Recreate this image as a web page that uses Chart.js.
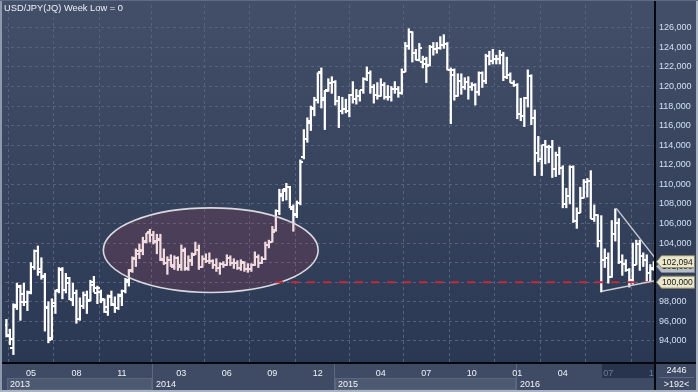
<!DOCTYPE html>
<html>
<head>
<meta charset="utf-8">
<script src="https://cdn.jsdelivr.net/npm/chart.js@4.4.1/dist/chart.umd.min.js"></script>
<style>
  html, body { margin: 0; padding: 0; background: #2c3954; }
  canvas { display: block; }
</style>
</head>
<body>
<canvas id="myChart" width="698" height="392"></canvas>
<script>
// USD/JPY weekly bars, first bar is the week of Mon 18 Mar 2013
var firstWeek = Date.UTC(2013, 2, 18);

var openData = [
  95.6, 94.5, 93.3, 97.7, 99.5, 98.8, 98.0, 98.9, 101.6, 103.2, 101.3, 100.6, 97.4, 94.3, 97.6, 99.2, 101.3, 99.2, 99.9, 98.2, 98.9, 96.2, 97.6, 98.7, 98.1, 100.0, 98.9, 99.0, 98.2, 97.0, 98.5, 97.8, 97.4, 98.6, 99.1, 100.0, 101.2, 102.5, 103.2, 103.3, 104.2, 105.1,
  104.8, 104.1, 104.4, 102.4, 102.0, 102.3, 101.6, 102.5, 101.6, 103.2, 101.4, 102.3, 102.9, 103.3, 101.6, 102.4, 102.2, 102.2, 101.8, 101.5, 101.9, 101.8, 102.5, 102.0, 102.0, 101.4, 102.0, 101.3, 101.3, 101.8, 102.6, 102.0, 102.4, 103.8, 104.1, 105.3, 107.3, 108.8, 109.5, 109.7, 107.5, 107.0, 108.1, 112.8, 114.6, 116.5, 117.8, 118.6, 121.5, 118.6, 119.6, 120.4,
  120.5, 118.5, 117.5, 117.7, 117.5, 119.1, 118.7, 119.0, 119.6, 120.8, 121.4, 120.0, 119.1, 119.0, 120.2, 118.9, 118.9, 119.7, 119.7, 119.3, 121.5, 124.1, 125.6, 123.4, 122.7, 122.5, 122.3, 122.2, 124.0, 123.8, 123.9, 124.2, 124.3, 121.7, 121.2, 119.0, 120.6, 119.9, 120.5, 119.9, 120.2, 119.4, 121.4, 120.6, 123.1, 122.6, 122.8, 122.8, 123.2, 121.0, 121.2, 120.4,
  120.2, 117.2, 117.0, 118.8, 121.1, 116.8, 113.2, 112.6, 114.0, 113.8, 113.8, 111.6, 113.0, 111.7, 108.0, 108.8, 111.8, 106.3, 107.1, 108.6, 110.2, 110.3, 106.5, 106.9, 104.2, 102.3, 102.5, 100.5, 104.9, 106.1, 102.1, 101.9, 101.2, 100.2, 101.8, 103.9, 102.7, 102.3, 100.9, 101.4
];
var highData = [
  96.2, 95.2, 97.8, 99.9, 99.7, 99.9, 99.1, 102.0, 103.3, 103.7, 102.5, 100.9, 98.0, 98.3, 99.2, 101.5, 101.5, 100.9, 100.5, 99.9, 99.2, 98.4, 99.0, 99.1, 100.2, 100.6, 99.6, 99.2, 98.3, 98.7, 99.1, 98.5, 98.8, 99.2, 100.4, 101.3, 102.6, 103.4, 103.9, 104.6, 105.0, 105.4,
  105.2, 104.9, 104.9, 103.4, 102.6, 102.8, 102.7, 102.6, 103.8, 103.5, 102.7, 103.0, 104.1, 103.8, 102.7, 102.9, 103.0, 102.3, 102.4, 102.0, 102.1, 102.8, 102.7, 102.4, 102.2, 102.3, 102.1, 101.9, 101.9, 103.1, 102.8, 102.6, 104.1, 104.3, 105.7, 107.4, 109.5, 109.5, 110.1, 109.8, 107.9, 108.3, 112.5, 115.6, 116.8, 118.0, 118.9, 121.4, 121.9, 119.6, 120.8, 121.0,
  120.6, 119.0, 118.9, 118.7, 119.2, 120.5, 119.7, 119.6, 120.9, 122.0, 121.6, 120.2, 120.4, 120.8, 120.4, 120.1, 120.0, 120.5, 120.0, 121.8, 124.5, 125.9, 125.6, 123.8, 124.4, 123.1, 123.0, 124.2, 124.5, 124.5, 125.1, 125.3, 124.5, 121.9, 121.8, 121.3, 121.3, 120.9, 121.0, 120.4, 120.3, 121.5, 121.5, 123.3, 123.6, 123.8, 123.2, 123.7, 123.5, 123.0, 121.4, 120.6,
  120.3, 118.8, 118.9, 121.7, 121.2, 117.6, 114.9, 114.0, 114.5, 114.0, 114.5, 113.3, 113.8, 111.9, 109.6, 111.9, 111.9, 107.6, 109.7, 110.5, 110.6, 111.4, 107.9, 106.9, 106.8, 103.4, 103.0, 106.3, 107.5, 106.5, 102.8, 102.3, 101.4, 104.0, 104.3, 104.3, 103.0, 102.8, 101.8, 102.1
];
var lowData = [
  94.4, 93.6, 92.6, 97.2, 96.1, 97.6, 97.1, 98.8, 101.3, 100.7, 100.3, 95.0, 93.8, 94.1, 96.8, 98.9, 98.3, 98.9, 98.2, 97.6, 95.8, 96.1, 97.3, 96.8, 98.1, 99.0, 97.8, 97.9, 96.9, 96.6, 97.6, 96.9, 97.2, 97.6, 98.9, 99.6, 101.0, 101.6, 102.4, 102.8, 104.0, 104.1,
  103.9, 102.9, 102.2, 101.8, 100.8, 101.6, 101.3, 101.2, 101.2, 101.2, 101.2, 101.7, 102.8, 101.3, 101.5, 102.0, 101.9, 101.4, 101.1, 100.8, 101.5, 101.7, 101.7, 101.4, 101.3, 101.2, 101.1, 101.0, 101.1, 101.7, 101.5, 101.9, 102.3, 103.5, 104.1, 105.2, 106.9, 108.3, 108.4, 107.6, 105.2, 106.6, 107.9, 112.6, 114.3, 115.5, 117.0, 118.3, 117.8, 115.6, 119.5, 119.3,
  118.1, 115.8, 117.2, 117.3, 116.9, 118.3, 118.2, 118.5, 119.3, 120.6, 119.3, 118.3, 118.7, 119.0, 118.7, 118.6, 118.5, 119.3, 118.9, 119.2, 121.5, 123.8, 122.5, 122.7, 122.6, 121.9, 120.4, 122.1, 123.2, 123.4, 123.8, 123.9, 121.7, 116.2, 118.6, 119.0, 119.2, 119.7, 118.7, 119.6, 118.1, 119.1, 119.9, 120.3, 122.2, 122.3, 122.3, 122.3, 120.6, 120.8, 120.4, 120.0,
  116.7, 116.5, 115.9, 117.9, 116.1, 110.9, 112.3, 110.9, 112.1, 112.2, 110.7, 110.8, 111.0, 107.6, 107.6, 108.0, 106.1, 105.5, 107.1, 108.6, 108.7, 106.5, 106.2, 103.6, 99.0, 101.5, 99.9, 100.5, 104.2, 101.9, 100.7, 101.1, 99.5, 99.8, 101.8, 101.2, 101.6, 100.1, 100.1, 101.2
];
var closeData = [
  94.6, 94.2, 97.5, 99.6, 98.0, 98.0, 99.0, 101.6, 103.2, 101.0, 100.5, 97.5, 94.1, 97.9, 99.1, 101.2, 99.2, 100.4, 98.3, 98.9, 96.2, 97.6, 98.7, 98.2, 99.7, 99.4, 99.4, 98.3, 97.5, 98.6, 97.7, 97.4, 98.7, 99.1, 100.2, 101.1, 102.4, 102.9, 103.2, 104.1, 105.0, 104.8,
  104.2, 104.3, 102.3, 102.0, 102.3, 101.8, 102.5, 101.8, 103.3, 101.3, 102.2, 102.8, 103.3, 101.6, 102.4, 102.2, 102.2, 101.8, 101.5, 101.9, 101.8, 102.5, 102.0, 102.0, 101.4, 102.1, 101.3, 101.3, 101.8, 102.6, 102.0, 102.4, 103.8, 104.1, 105.1, 107.3, 109.0, 109.3, 109.7, 107.7, 106.9, 108.1, 112.3, 114.6, 116.3, 117.7, 118.6, 121.4, 118.8, 119.5, 120.4, 120.5,
  118.5, 117.5, 117.7, 117.5, 119.1, 118.7, 119.0, 119.6, 120.8, 121.4, 120.0, 119.1, 119.0, 120.2, 118.9, 118.9, 119.7, 119.7, 119.3, 121.5, 124.1, 125.6, 123.4, 122.7, 123.9, 122.8, 122.1, 124.0, 123.8, 123.9, 124.2, 124.3, 121.7, 121.7, 119.0, 120.6, 119.9, 120.5, 119.9, 120.2, 119.4, 121.4, 120.6, 123.1, 122.6, 122.8, 122.8, 123.2, 121.0, 121.2, 120.4, 120.2,
  117.2, 117.0, 118.8, 121.1, 116.8, 113.2, 112.6, 114.0, 113.8, 113.8, 111.6, 113.0, 111.7, 108.0, 108.8, 111.8, 106.3, 107.1, 108.6, 110.2, 110.3, 106.5, 106.9, 104.2, 102.3, 102.5, 100.5, 104.9, 106.1, 102.1, 101.9, 101.2, 100.2, 101.8, 103.9, 102.7, 102.3, 100.9, 101.3, 102.094
];

var priceTicks = [94, 96, 98, 100, 102, 104, 106, 108, 110, 112, 114, 116, 118, 120, 122, 124, 126];
var monthTicks = ['2013-05', '2013-08', '2013-11', '2014-03', '2014-06', '2014-09', '2014-12',
  '2015-04', '2015-07', '2015-10', '2016-01', '2016-04', '2016-07', '2016-10'];
var yearLabels = ['2013', '2014', '2015', '2016'];

var lastPrice = 102.094;
var prevPrice = 101.6;
var supportPrice = 100;

var fontFamily = '"Liberation Sans", Arial, sans-serif';
var gridColor = '#56627b';

// first weekly bar that starts in the given month
function weekOf(ym) {
  var p = ym.split('-');
  var t = Date.UTC(+p[0], +p[1] - 1, 1);
  return Math.ceil((t - firstWeek) / (7 * 864e5));
}

function tickImage(side) {
  var c = document.createElement('canvas');
  c.width = 6; c.height = 2;
  var g = c.getContext('2d');
  g.fillStyle = '#ffffff';
  g.fillRect(side == 'left' ? 0 : 3, 0, 3, 2);
  return c;
}

function priceText(v) {
  return v.toFixed(3).replace('.', ',');
}

function drawTag(c, x, y, text, fill, edge) {
  c.beginPath();
  c.moveTo(x, y);
  c.lineTo(x + 5, y - 6);
  c.lineTo(x + 38, y - 6);
  c.lineTo(x + 38, y + 6);
  c.lineTo(x + 5, y + 6);
  c.closePath();
  c.fillStyle = fill;
  c.fill();
  c.strokeStyle = edge;
  c.lineWidth = 1;
  c.stroke();
  c.fillStyle = '#161616';
  c.font = '8.5px ' + fontFamily;
  c.textAlign = 'left';
  c.textBaseline = 'middle';
  c.fillText(text, x + 5.5, y + 0.5);
}

var frame = {
  id: 'frame',
  beforeDraw: function (chart) {
    var c = chart.ctx, a = chart.chartArea, W = chart.width, H = chart.height;
    var xs = chart.scales.x;
    c.save();
    var g = c.createLinearGradient(0, 0, 0, a.bottom);
    g.addColorStop(0, '#434f68');
    g.addColorStop(1, '#2b3853');
    c.fillStyle = g;
    c.fillRect(0, 0, W, a.bottom);

    c.fillStyle = '#3f4b64';
    c.fillRect(0, a.bottom, W, H - a.bottom);

    // darker strip behind the last months
    c.fillStyle = '#28344d';
    c.fillRect(602, a.bottom + 1, a.right - 602, 14);

    var yx = yearLabels.map(function (y, k) {
      return k == 0 ? a.left + 2 : Math.round(xs.getPixelForValue(weekOf(y + '-01')));
    });
    c.font = '9px ' + fontFamily;
    c.textBaseline = 'middle';
    c.textAlign = 'left';
    yearLabels.forEach(function (y, k) {
      var x0 = yx[k];
      var x1 = k + 1 < yx.length ? yx[k + 1] : a.right;
      if (k % 2 == 0) {
        c.fillStyle = '#4d5971';
        c.fillRect(x0, 378, x1 - x0 - 1, 12);
        c.strokeStyle = '#5a667e';
        c.lineWidth = 1;
        c.strokeRect(x0 + 0.5, 378.5, x1 - x0 - 2, 11);
      }
      if (k > 0) {
        c.fillStyle = '#5d6981';
        c.fillRect(x0 - 1, a.bottom + 1, 1, H - a.bottom - 3);
      }
      c.fillStyle = '#f2f5f9';
      c.fillText(y, x0 + 3, 384.5);
    });
    c.restore();
  },
  afterDatasetsDraw: function (chart) {
    var c = chart.ctx, a = chart.chartArea;
    var xs = chart.scales.x, ys = chart.scales.y;
    c.save();
    c.beginPath();
    c.rect(a.left, a.top, a.right - a.left, a.bottom - a.top);
    c.clip();

    // ellipse around the 2014 range
    var cx = xs.getPixelForValue(58.4), cy = ys.getPixelForValue(103.27);
    var rx = xs.getPixelForValue(58.4 + 30.7) - cx;
    var ry = cy - ys.getPixelForValue(103.27 + 4.32);
    c.beginPath();
    c.ellipse(cx, cy, rx, ry, 0, 0, Math.PI * 2);
    c.fillStyle = 'rgba(185, 55, 80, 0.18)';
    c.fill();
    c.strokeStyle = '#d9d9e0';
    c.lineWidth = 1.6;
    c.stroke();

    // 100 yen line
    c.beginPath();
    c.setLineDash([8, 8]);
    c.moveTo(xs.getPixelForValue(76.8), ys.getPixelForValue(supportPrice));
    c.lineTo(a.right, ys.getPixelForValue(supportPrice));
    c.strokeStyle = '#c4283c';
    c.lineWidth = 2;
    c.stroke();
    c.setLineDash([]);

    // triangle after June 2016
    c.strokeStyle = '#c9ccd4';
    c.lineWidth = 1.4;
    c.beginPath();
    c.moveTo(xs.getPixelForValue(174.3), ys.getPixelForValue(107.55));
    c.lineTo(xs.getPixelForValue(185.35), ys.getPixelForValue(102.48));
    c.stroke();
    c.beginPath();
    c.moveTo(xs.getPixelForValue(170.2), ys.getPixelForValue(99.07));
    c.lineTo(xs.getPixelForValue(185.35), ys.getPixelForValue(100.15));
    c.stroke();
    c.restore();
  },
  afterDraw: function (chart) {
    var c = chart.ctx, a = chart.chartArea, W = chart.width, H = chart.height;
    var ys = chart.scales.y;
    c.save();

    // corner box under the price axis
    c.fillStyle = '#3f4b64';
    c.fillRect(a.right, a.bottom, W - a.right, H - a.bottom);
    c.fillStyle = '#5d6981';
    c.fillRect(a.right + 4, 377, W - a.right - 8, 1);
    c.fillStyle = '#f2f5f9';
    c.font = '9px ' + fontFamily;
    c.textAlign = 'center';
    c.textBaseline = 'middle';
    c.fillText('2446', (a.right + W) / 2, 371);
    c.fillText('>192<', (a.right + W) / 2, 384.5);

    // axis lines
    c.fillStyle = '#05080d';
    c.fillRect(0, a.bottom - 1, W, 2);
    c.fillRect(a.right - 1, 0, 2, H);

    // price tags
    drawTag(c, a.right + 1.5, ys.getPixelForValue(prevPrice), priceText(prevPrice), '#b7bec8', '#7d8592');
    drawTag(c, a.right + 1.5, ys.getPixelForValue(lastPrice), priceText(lastPrice), '#ebe7ca', '#8c886c');
    drawTag(c, a.right + 1.5, ys.getPixelForValue(supportPrice), priceText(supportPrice), '#ebe7ca', '#8c886c');

    // title
    c.fillStyle = '#eef2f7';
    c.font = '9.3px ' + fontFamily;
    c.textAlign = 'left';
    c.textBaseline = 'alphabetic';
    c.fillText('USD/JPY(JQ) Week Low = 0', 4, 11);

    // outer frame
    c.fillStyle = '#8d99ad';
    c.fillRect(0, 0, 2, H);
    c.fillStyle = '#a9b3c1';
    c.fillRect(0, H - 2, W, 2);
    c.fillRect(W - 2, 0, 2, H);
    c.fillStyle = '#5d6a82';
    c.fillRect(0, 0, W, 1);
    c.restore();
  }
};

var bars = openData.map(function (o, i) { return { x: i, y: [lowData[i], highData[i]] }; });
var opens = openData.map(function (o, i) { return { x: i, y: o }; });
var closes = closeData.map(function (v, i) { return { x: i, y: v }; });

Chart.defaults.font.family = fontFamily;

var ctx = document.getElementById('myChart').getContext('2d');
var myChart = new Chart(ctx, {
  type: 'bar',
  data: {
    datasets: [{
      type: 'bar',
      data: bars,
      backgroundColor: '#ffffff',
      borderWidth: 0,
      barThickness: 1.6
    }, {
      type: 'line',
      data: opens,
      showLine: false,
      pointStyle: tickImage('left'),
      pointRadius: 3
    }, {
      type: 'line',
      data: closes,
      showLine: false,
      pointStyle: tickImage('right'),
      pointRadius: 3
    }]
  },
  options: {
    responsive: false,
    animation: false,
    devicePixelRatio: 1,
    events: [],
    layout: { padding: { left: 3, top: 2, right: 0, bottom: 0 } },
    plugins: {
      legend: { display: false },
      tooltip: { enabled: false }
    },
    scales: {
      x: {
        type: 'linear',
        position: 'bottom',
        min: -0.4,
        max: 185.35,
        offset: false,
        afterBuildTicks: function (s) {
          s.ticks = monthTicks.map(function (m) { return { value: weekOf(m) }; });
        },
        afterFit: function (s) {
          s.height = 29;
          s.paddingLeft = 0;
          s.paddingRight = 0;
        },
        grid: { color: gridColor, lineWidth: 1, drawTicks: false },
        border: { display: true, color: '#05080d', width: 2, dash: [3, 3] },
        ticks: {
          autoSkip: false,
          maxRotation: 0,
          padding: 5,
          font: { size: 9 },
          color: function (c) { return c.index >= 12 ? '#6f7c93' : '#eef2f7'; },
          callback: function (v, i) { return monthTicks[i].slice(5); }
        }
      },
      y: {
        type: 'linear',
        position: 'right',
        min: 91.74,
        max: 128.33,
        afterBuildTicks: function (s) {
          s.ticks = priceTicks.map(function (v) { return { value: v }; });
        },
        afterFit: function (s) {
          s.width = 43;
          s.paddingTop = 0;
          s.paddingBottom = 0;
        },
        grid: { color: gridColor, lineWidth: 1, drawTicks: false },
        border: { display: true, color: '#05080d', width: 2, dash: [3, 3] },
        ticks: {
          padding: 4,
          font: { size: 9 },
          color: '#cfe0f2',
          callback: function (v) { return priceText(v); }
        }
      }
    }
  },
  plugins: [frame]
});
</script>
</body>
</html>
